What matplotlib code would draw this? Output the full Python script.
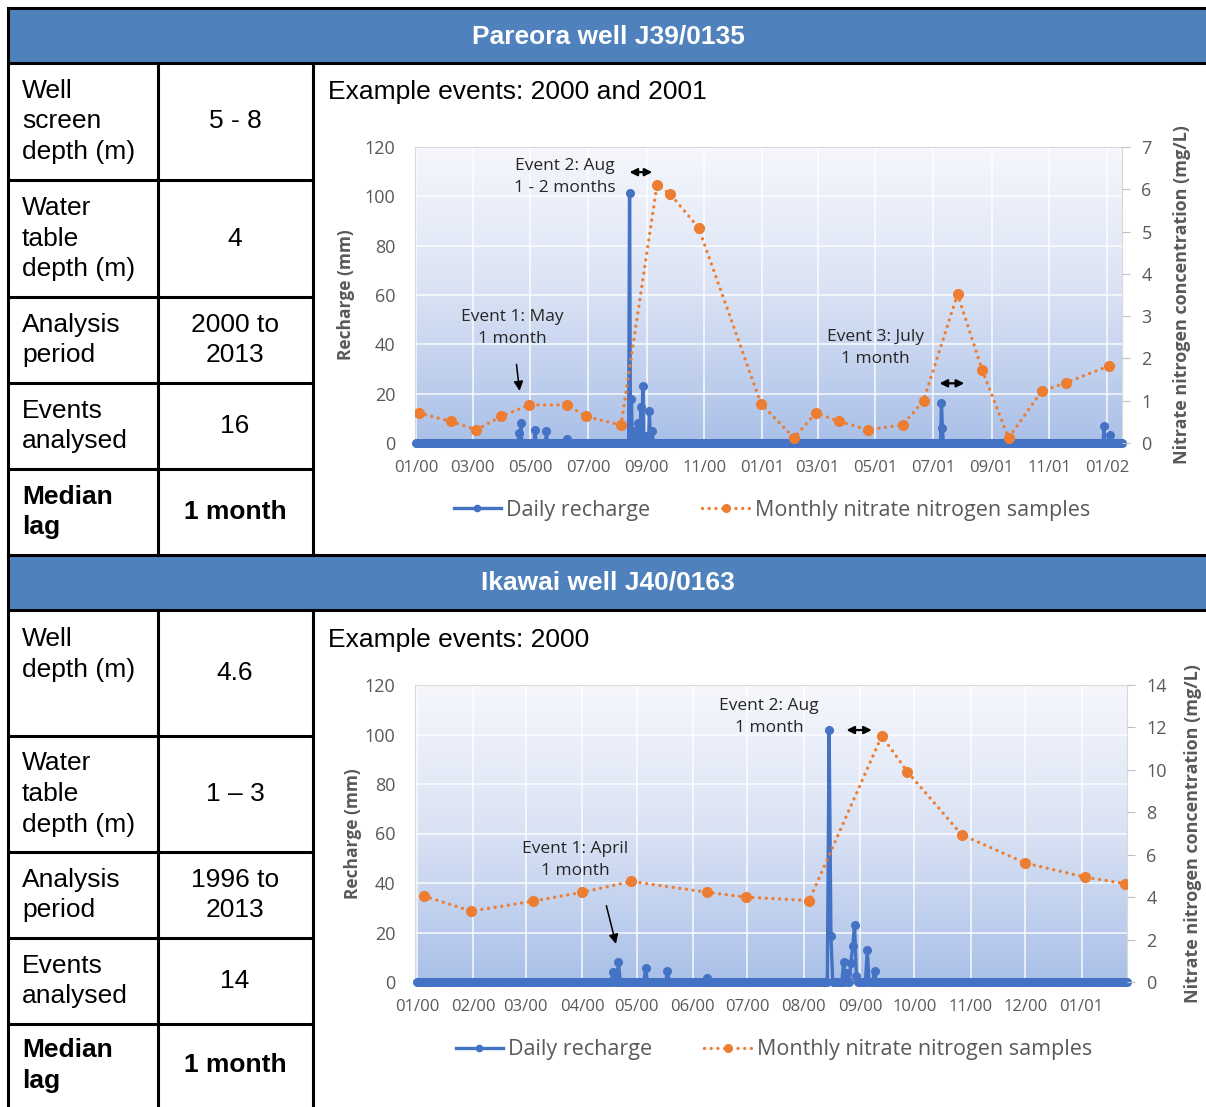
import numpy as np
import pandas as pd
import matplotlib
matplotlib.use("Agg")
import matplotlib.pyplot as plt
import matplotlib.dates as mdates
from matplotlib.colors import LinearSegmentedColormap
from matplotlib.lines import Line2D
from matplotlib.patches import Rectangle

plt.rcParams['font.family'] = ['Open Sans', 'DejaVu Sans']

# ---------------- data ----------------
par_title = "Pareora well J39/0135"
par_labels = ["Well\nscreen\ndepth (m)", "Water\ntable\ndepth (m)", "Analysis\nperiod",
              "Events\nanalysed", "Median\nlag"]
par_values = ["5 - 8", "4", "2000 to\n2013", "16", "1 month"]
par_heading = "Example events: 2000 and 2001"

par_recharge_dates = ["2000-04-19", "2000-04-21", "2000-05-06", "2000-05-18", "2000-06-09",
                      "2000-08-14", "2000-08-16", "2000-08-20", "2000-08-23", "2000-08-26",
                      "2000-08-28", "2000-08-30", "2000-09-04", "2000-09-07",
                      "2001-07-10", "2001-07-11", "2001-12-29", "2002-01-04"]
par_recharge = [4.0, 8.3, 5.4, 4.7, 1.8,
                101.5, 18.0, 5.0, 8.3, 14.5,
                23.0, 3.0, 12.8, 4.7,
                16.1, 6.0, 7.0, 3.4]
par_daily_range = ("2000-01-01", "2002-01-17")

par_nitrate_dates = ["2000-01-04", "2000-02-07", "2000-03-05", "2000-03-31", "2000-04-30",
                     "2000-06-09", "2000-06-29", "2000-08-05", "2000-09-12", "2000-09-26",
                     "2000-10-26", "2000-12-31", "2001-02-04", "2001-02-27", "2001-03-24",
                     "2001-04-23", "2001-05-30", "2001-06-21", "2001-07-27", "2001-08-22",
                     "2001-09-19", "2001-10-24", "2001-11-19", "2002-01-03"]
par_nitrate = [0.71, 0.51, 0.31, 0.63, 0.90,
               0.90, 0.63, 0.42, 6.10, 5.89,
               5.09, 0.93, 0.12, 0.71, 0.51,
               0.31, 0.43, 1.00, 3.52, 1.73,
               0.12, 1.22, 1.43, 1.82]

ika_title = "Ikawai well J40/0163"
ika_labels = ["Well\ndepth (m)", "Water\ntable\ndepth (m)", "Analysis\nperiod",
              "Events\nanalysed", "Median\nlag"]
ika_values = ["4.6", "1 \u2013 3", "1996 to\n2013", "14", "1 month"]
ika_heading = "Example events: 2000"

ika_recharge_dates = ["2000-04-18", "2000-04-21", "2000-05-06", "2000-05-18", "2000-06-09",
                      "2000-08-15", "2000-08-16", "2000-08-23", "2000-08-25", "2000-08-27",
                      "2000-08-28", "2000-08-29", "2000-08-30", "2000-09-05", "2000-09-09"]
ika_recharge = [4.0, 8.1, 5.5, 4.4, 1.7,
                102.0, 18.5, 8.1, 3.8, 7.8,
                14.5, 23.2, 2.4, 12.8, 4.4]
ika_daily_range = ("2000-01-01", "2001-01-26")

ika_nitrate_dates = ["2000-01-05", "2000-01-31", "2000-03-05", "2000-04-01", "2000-04-28",
                     "2000-06-09", "2000-06-30", "2000-08-04", "2000-09-13", "2000-09-27",
                     "2000-10-27", "2000-12-01", "2001-01-03", "2001-01-25"]
ika_nitrate = [4.05, 3.34, 3.81, 4.23, 4.74,
               4.23, 4.00, 3.84, 11.6, 9.92,
               6.94, 5.61, 4.94, 4.64]

# ---------------- styling ----------------
W, H = 1206, 1107
BLUE = "#4472C4"
ORANGE = "#ED7D31"
HEADER = "#4F81BD"
GREY = "#595959"
TABLE_FONT = "Liberation Sans"
DOTS = (0, (0.01, 2.0))

grad = LinearSegmentedColormap.from_list("bg", ["#AAC0E8", "#D9E2F4", "#F6F7FC"])

fig = plt.figure(figsize=(W / 100, H / 100), dpi=100)
tab = fig.add_axes([0, 0, 1, 1])
tab.set_xlim(0, W)
tab.set_ylim(H, 0)
tab.axis("off")


def daily_series(dates, values, rng):
    s = pd.Series(0.0, index=pd.date_range(rng[0], rng[1], freq="D"))
    s.loc[pd.to_datetime(dates)] = values
    return s


def draw_table(top, row_edges, title, labels, values, heading, label_va):
    # header band across the full width
    tab.add_patch(Rectangle((8, top), W - 8, 55, color=HEADER, zorder=1))
    tab.text(608, top + 28, title, color="white", fontsize=19, fontweight="bold",
             family=TABLE_FONT, ha="center", va="center")
    lw = 2.2
    tab.plot([8, W], [top, top], color="black", lw=lw)
    tab.plot([8, W], [top + 55, top + 55], color="black", lw=lw)
    tab.plot([8, 8], [top, row_edges[-1]], color="black", lw=lw)
    for y in row_edges[1:-1]:
        tab.plot([8, 313], [y, y], color="black", lw=lw)
    for x in (158, 313):
        tab.plot([x, x], [top + 55, row_edges[-1]], color="black", lw=lw)
    for i, (lab, val) in enumerate(zip(labels, values)):
        y0, y1 = row_edges[i], row_edges[i + 1]
        bold = "bold" if i == len(labels) - 1 else "normal"
        yc = (y0 + y1) / 2 + label_va[i]
        tab.text(22, yc, lab, fontsize=19, family=TABLE_FONT, fontweight=bold,
                 ha="left", va="center", linespacing=1.36)
        tab.text(235, (y0 + y1) / 2, val, fontsize=19, family=TABLE_FONT, fontweight=bold,
                 ha="center", va="center", linespacing=1.36)
    tab.text(328, row_edges[0] + 29, heading, fontsize=19, family=TABLE_FONT,
             ha="left", va="center")


def draw_chart(box, daily, n_dates, n_vals, xlim, ymax2, months, notes, arrows, spans,
               ylab_x, y2lab_x, legend_xy):
    l, t, r, b = box
    ax = fig.add_axes([l / W, 1 - b / H, (r - l) / W, (b - t) / H])
    ax.imshow(np.linspace(0, 1, 256).reshape(-1, 1), cmap=grad, origin="lower",
              extent=(0, 1, 0, 1), transform=ax.transAxes, aspect="auto", zorder=0)
    ax.plot(daily.index, daily.values, color=BLUE, lw=2.4, marker="o", ms=5.5,
            solid_capstyle="round", zorder=3, clip_on=False)
    ax.set_xlim(pd.Timestamp(xlim[0]), pd.Timestamp(xlim[1]))
    ax.set_ylim(0, 120)
    ax.set_yticks(range(0, 121, 20))
    ax.xaxis.set_major_locator(mdates.MonthLocator(bymonth=months))
    ax.xaxis.set_major_formatter(mdates.DateFormatter("%m/%y"))
    ax.grid(True, color="white", lw=1.1, alpha=0.9)
    ax.set_axisbelow(True)
    ax.tick_params(axis="x", length=0, pad=12, labelsize=12, labelcolor=GREY)
    ax.tick_params(axis="y", length=0, pad=14, labelsize=13, labelcolor=GREY)
    for sp in ax.spines.values():
        sp.set_color("#D9D9D9")
        sp.set_linewidth(0.8)
    ax.set_ylabel("Recharge (mm)", fontsize=12.5, fontweight="bold", color=GREY)
    ax.yaxis.set_label_coords(ylab_x, 0.5)

    ax2 = ax.twinx()
    ax2.plot(pd.to_datetime(n_dates), n_vals, color=ORANGE, lw=2.4, ls=DOTS,
             dash_capstyle="round", marker="o", ms=7, zorder=4)
    ax2.set_ylim(0, ymax2)
    ax2.set_yticks(np.arange(0, ymax2 + 0.1, ymax2 / 7))
    ax2.tick_params(axis="y", length=6, width=0.8, color="#BFBFBF", pad=8,
                    labelsize=13, labelcolor=GREY)
    for sp in ax2.spines.values():
        sp.set_visible(False)
    ax2.set_ylabel("Nitrate nitrogen concentration (mg/L)", fontsize=13,
                   fontweight="bold", color=GREY)
    ax2.yaxis.set_label_coords(y2lab_x, 0.5)

    for text, x, y in notes:
        ax.text(pd.Timestamp(x), y, text, fontsize=12.5, color="#262626", ha="center",
                va="center", linespacing=1.5, zorder=6)
    for x0, y0, x1, y1 in arrows:
        ax.annotate("", xy=(pd.Timestamp(x1), y1), xytext=(pd.Timestamp(x0), y0),
                    arrowprops=dict(arrowstyle="-|>", color="black", lw=1.1,
                                    mutation_scale=14), zorder=6)
    for x0, x1, y in spans:
        ax.annotate("", xy=(pd.Timestamp(x1), y), xytext=(pd.Timestamp(x0), y),
                    arrowprops=dict(arrowstyle="<|-|>", color="black", lw=1.6,
                                    mutation_scale=11), zorder=6)

    handles = [Line2D([], [], color=BLUE, lw=2.4, marker="o", ms=4.5),
               Line2D([], [], color=ORANGE, lw=2.4, ls=DOTS,
                      dash_capstyle="round", marker="o", ms=5.5)]
    ax.legend(handles, ["Daily recharge", "Monthly nitrate nitrogen samples"],
              loc="center", bbox_to_anchor=(legend_xy[0] / W, 1 - legend_xy[1] / H),
              bbox_transform=fig.transFigure, ncol=2, frameon=False, fontsize=15.5,
              labelcolor=GREY, handlelength=2.2, handletextpad=0.25, columnspacing=2.4)
    return ax


# ---------------- Pareora ----------------
draw_table(8, [63, 180, 297, 383, 469, 555], par_title, par_labels, par_values,
           par_heading, [0, 0, 0, 0, 0])
draw_chart((415, 147, 1122, 443),
           daily_series(par_recharge_dates, par_recharge, par_daily_range),
           par_nitrate_dates, par_nitrate, ("1999-12-31", "2002-01-17"), 7,
           [1, 3, 5, 7, 9, 11],
           [("Event 2: Aug\n1 - 2 months", "2000-06-06", 107.7),
            ("Event 1: May\n1 month", "2000-04-12", 46.8),
            ("Event 3: July\n1 month", "2001-05-01", 38.7)],
           [("2000-04-16", 33, "2000-04-20", 20)],
           [("2000-08-11", "2000-09-10", 109.8), ("2001-07-05", "2001-08-06", 24.2)],
           -0.085, 1.072, (772, 510))

# ---------------- Ikawai ----------------
draw_table(555, [611, 736, 852, 938, 1024, 1107], ika_title, ika_labels, ika_values,
           ika_heading, [-19, 0, 0, 0, 0])
draw_chart((415, 685, 1127, 982),
           daily_series(ika_recharge_dates, ika_recharge, ika_daily_range),
           ika_nitrate_dates, ika_nitrate, ("1999-12-31", "2001-01-26"), 14,
           list(range(1, 13)),
           [("Event 2: Aug\n1 month", "2000-07-13", 106.9),
            ("Event 1: April\n1 month", "2000-03-28", 49.1)],
           [("2000-04-14", 31.9, "2000-04-20", 14.3)],
           [("2000-08-23", "2000-09-09", 101.8)],
           -0.075, 1.08, (774, 1050))

fig.savefig("out.png", dpi=100, facecolor="white")
